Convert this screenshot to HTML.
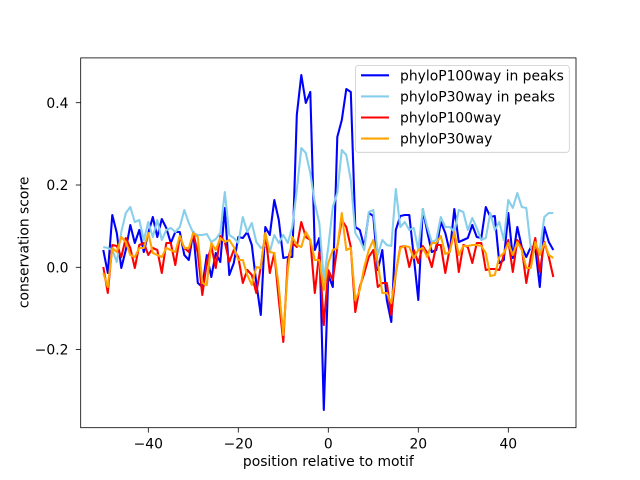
<!DOCTYPE html>
<html><head><meta charset="utf-8">
<style>
html,body{margin:0;padding:0;background:#fff;}
svg{display:block;}
text{font-family:"DejaVu Sans","Liberation Sans",sans-serif;font-size:13.9px;fill:#000;}
</style></head>
<body>
<svg id="s" width="640" height="480" viewBox="0 0 640 480" xmlns="http://www.w3.org/2000/svg">
<rect x="0" y="0" width="640" height="480" fill="#fff"/>
<defs><clipPath id="c"><rect x="80.7" y="57.6" width="495.3" height="370"/></clipPath></defs>
<g id="series" clip-path="url(#c)" fill="none" stroke-width="2.08" stroke-linejoin="round"></g>
<!-- axes frame -->
<rect x="80.7" y="57.9" width="495.3" height="369.8" fill="none" stroke="#000" stroke-width="0.8"/>
<!-- ticks -->
<g stroke="#000" stroke-width="0.8">
<line x1="148.3" y1="427.7" x2="148.3" y2="432.6"/>
<line x1="238.3" y1="427.7" x2="238.3" y2="432.6"/>
<line x1="328.3" y1="427.7" x2="328.3" y2="432.6"/>
<line x1="418.3" y1="427.7" x2="418.3" y2="432.6"/>
<line x1="508.3" y1="427.7" x2="508.3" y2="432.6"/>
<line x1="75.8" y1="102.7" x2="80.7" y2="102.7"/>
<line x1="75.8" y1="185" x2="80.7" y2="185"/>
<line x1="75.8" y1="267.3" x2="80.7" y2="267.3"/>
<line x1="75.8" y1="349.5" x2="80.7" y2="349.5"/>
</g>
<g text-anchor="middle">
<text x="148.3" y="448.5">−40</text>
<text x="238.3" y="448.5">−20</text>
<text x="328.3" y="448.5">0</text>
<text x="418.3" y="448.5">20</text>
<text x="508.3" y="448.5">40</text>
<text x="328.3" y="466">position relative to motif</text>
</g>
<g text-anchor="end">
<text x="68.5" y="107.8">0.4</text>
<text x="68.5" y="190.1">0.2</text>
<text x="68.5" y="272.4">0.0</text>
<text x="68.5" y="354.6">−0.2</text>
</g>
<text x="0" y="0" text-anchor="middle" transform="translate(28.5,242.4) rotate(-90)">conservation score</text>
<!-- legend -->
<rect x="355.5" y="65.5" width="213.8" height="86.8" rx="2.8" ry="2.8" fill="#fff" fill-opacity="0.8" stroke="#cccccc" stroke-width="0.8"/>
<g stroke-width="2.08">
<line x1="361" y1="75.3" x2="389" y2="75.3" stroke="#0000ff"/>
<line x1="361" y1="96.4" x2="389" y2="96.4" stroke="#87ceeb"/>
<line x1="361" y1="117.5" x2="389" y2="117.5" stroke="#ff0000"/>
<line x1="361" y1="138.6" x2="389" y2="138.6" stroke="#ffa500"/>
</g>
<text x="400" y="80.3">phyloP100way in peaks</text>
<text x="400" y="101.4">phyloP30way in peaks</text>
<text x="400" y="122.5">phyloP100way</text>
<text x="400" y="143.6">phyloP30way</text>
</svg>
<script>
var B=[250,273,215,233,268,250,225,243,230,252,
233,217,237,219,228,243,232,232,255,260,
232,283,287,255,277,253,262,208,275,263,
237,238,232,245,283,315,227,235,200,220,
258,257,257,115,75,103,92,250,238,410,
275,287,137,120,89,92,227,230,247,213,
216,270,250,300,322,230,216,215,215,257,
300,209,232,252,250,222,233,252,209,242,
240,238,225,237,238,207,217,216,263,260,
213,258,227,247,257,247,248,287,227,242,
250];
var LB=[247,248,250,262,232,213,207,222,220,240,
222,237,220,240,230,228,232,227,210,223,
233,235,235,234,242,239,233,192,235,238,
243,217,232,223,242,248,245,252,235,243,
235,243,227,190,148,153,173,203,223,280,
247,207,193,150,155,180,233,240,250,212,
210,255,240,245,246,189,227,222,230,228,
250,209,227,242,240,217,227,227,232,210,
212,230,218,228,240,238,213,230,222,240,
200,208,193,207,208,248,248,250,217,213,
213];
var R=[267,293,245,246,257,238,248,268,245,243,
255,248,250,273,243,243,265,237,248,252,
233,253,295,263,246,268,236,242,262,250,
257,283,270,275,293,267,233,273,253,300,
342,260,243,247,222,237,240,293,252,325,
270,280,247,220,227,247,312,287,273,257,
250,287,283,283,315,273,247,246,267,250,
263,246,253,267,245,245,273,248,233,272,
245,247,263,243,243,270,269,269,270,255,
240,272,240,248,283,257,238,272,242,257,
277];
var O=[273,287,248,252,237,242,255,257,248,248,
233,253,255,257,248,250,252,236,248,248,
233,237,283,285,243,250,238,242,240,247,
260,260,275,285,267,268,233,252,253,287,
335,270,237,245,247,232,240,260,260,290,
263,250,248,213,250,248,300,290,267,250,
240,263,293,293,303,273,248,246,247,258,
250,248,257,243,243,236,254,252,232,255,
246,246,245,245,246,253,276,275,257,253,
243,255,242,250,268,268,242,255,243,255,
258];
var g=document.getElementById('series');
function add(arr,col){
  var p=[];
  for(var i=0;i<arr.length;i++){p.push((103.3+4.5*i).toFixed(1)+','+arr[i]);}
  var el=document.createElementNS('http://www.w3.org/2000/svg','polyline');
  el.setAttribute('points',p.join(' '));
  el.setAttribute('stroke',col);
  g.appendChild(el);
}
add(B,'#0000ff');add(LB,'#87ceeb');add(R,'#ff0000');add(O,'#ffa500');
</script>
</body></html>
